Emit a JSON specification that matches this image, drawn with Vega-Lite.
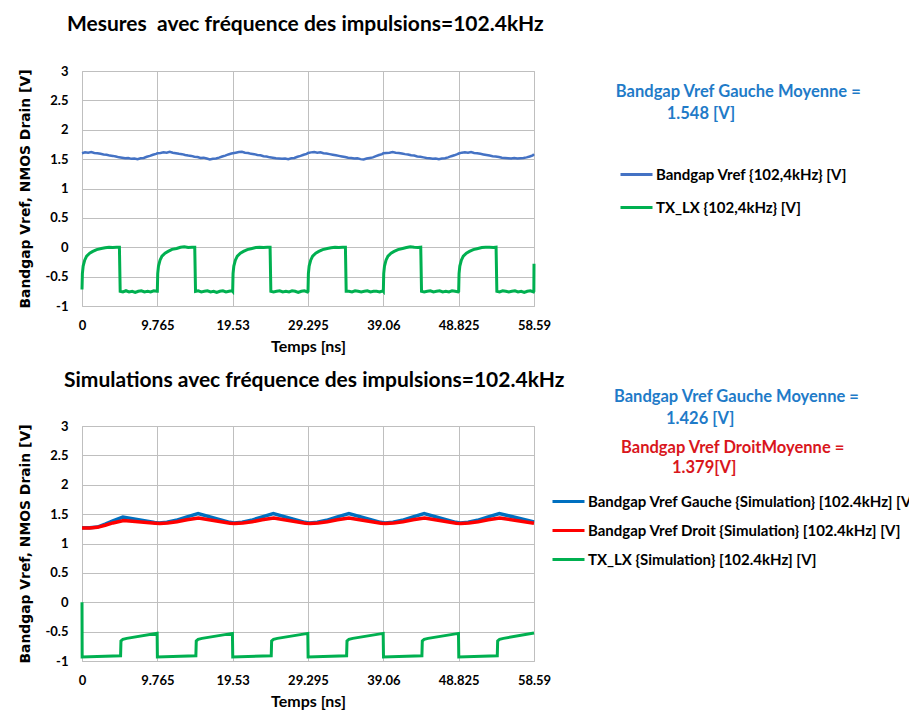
{
  "$schema": "https://vega.github.io/schema/vega-lite/v6.json",
  "padding": {"left": 18, "top": 13, "right": 0, "bottom": 0},
  "background": "white",
  "spacing": 14,
  "datasets": {
    "mBlue": [
      {"t":0,"v":1.6},{"t":0.4,"v":1.615},{"t":0.8,"v":1.61},{"t":1.2,"v":1.62},{"t":1.6,"v":1.605},{"t":2.0,"v":1.6},{"t":2.4,"v":1.59},{"t":2.8,"v":1.58},{"t":3.2,"v":1.575},{"t":3.6,"v":1.56},{"t":4.0,"v":1.555},{"t":4.4,"v":1.545},{"t":4.8,"v":1.53},{"t":5.2,"v":1.525},{"t":5.6,"v":1.515},{"t":6.0,"v":1.52},{"t":6.4,"v":1.505},{"t":6.8,"v":1.51},{"t":7.2,"v":1.5},{"t":7.6,"v":1.515},{"t":8.0,"v":1.52},{"t":8.4,"v":1.54},{"t":8.8,"v":1.555},{"t":9.2,"v":1.575},{"t":9.6,"v":1.59},
      {"t":9.77,"v":1.6},{"t":10.17,"v":1.605},{"t":10.57,"v":1.615},{"t":10.97,"v":1.61},{"t":11.37,"v":1.625},{"t":11.77,"v":1.61},{"t":12.17,"v":1.6},{"t":12.57,"v":1.59},{"t":12.97,"v":1.585},{"t":13.37,"v":1.57},{"t":13.77,"v":1.56},{"t":14.17,"v":1.555},{"t":14.57,"v":1.54},{"t":14.97,"v":1.535},{"t":15.37,"v":1.52},{"t":15.77,"v":1.525},{"t":16.17,"v":1.51},{"t":16.57,"v":1.495},{"t":16.97,"v":1.505},{"t":17.37,"v":1.51},{"t":17.77,"v":1.525},{"t":18.17,"v":1.545},{"t":18.57,"v":1.56},{"t":18.97,"v":1.58},{"t":19.37,"v":1.595},
      {"t":19.53,"v":1.6},{"t":19.93,"v":1.61},{"t":20.33,"v":1.62},{"t":20.73,"v":1.625},{"t":21.13,"v":1.61},{"t":21.53,"v":1.605},{"t":21.93,"v":1.59},{"t":22.33,"v":1.585},{"t":22.73,"v":1.57},{"t":23.13,"v":1.565},{"t":23.53,"v":1.55},{"t":23.93,"v":1.545},{"t":24.33,"v":1.53},{"t":24.73,"v":1.525},{"t":25.13,"v":1.515},{"t":25.53,"v":1.51},{"t":25.93,"v":1.505},{"t":26.33,"v":1.51},{"t":26.73,"v":1.5},{"t":27.13,"v":1.515},{"t":27.53,"v":1.52},{"t":27.93,"v":1.54},{"t":28.33,"v":1.555},{"t":28.73,"v":1.575},{"t":29.13,"v":1.59},
      {"t":29.3,"v":1.605},{"t":29.7,"v":1.615},{"t":30.1,"v":1.62},{"t":30.5,"v":1.61},{"t":30.9,"v":1.615},{"t":31.3,"v":1.6},{"t":31.7,"v":1.595},{"t":32.1,"v":1.585},{"t":32.5,"v":1.575},{"t":32.9,"v":1.565},{"t":33.3,"v":1.555},{"t":33.7,"v":1.545},{"t":34.1,"v":1.535},{"t":34.5,"v":1.525},{"t":34.9,"v":1.52},{"t":35.3,"v":1.51},{"t":35.7,"v":1.515},{"t":36.1,"v":1.5},{"t":36.5,"v":1.495},{"t":36.9,"v":1.51},{"t":37.3,"v":1.52},{"t":37.7,"v":1.53},{"t":38.1,"v":1.55},{"t":38.5,"v":1.57},{"t":38.9,"v":1.585},
      {"t":39.06,"v":1.6},{"t":39.46,"v":1.605},{"t":39.86,"v":1.61},{"t":40.26,"v":1.62},{"t":40.66,"v":1.61},{"t":41.06,"v":1.605},{"t":41.46,"v":1.595},{"t":41.86,"v":1.585},{"t":42.26,"v":1.58},{"t":42.66,"v":1.565},{"t":43.06,"v":1.56},{"t":43.46,"v":1.545},{"t":43.86,"v":1.54},{"t":44.26,"v":1.53},{"t":44.66,"v":1.52},{"t":45.06,"v":1.515},{"t":45.46,"v":1.505},{"t":45.86,"v":1.51},{"t":46.26,"v":1.5},{"t":46.66,"v":1.51},{"t":47.06,"v":1.515},{"t":47.46,"v":1.53},{"t":47.86,"v":1.55},{"t":48.26,"v":1.565},{"t":48.66,"v":1.585},
      {"t":48.83,"v":1.595},{"t":49.23,"v":1.61},{"t":49.63,"v":1.615},{"t":50.03,"v":1.61},{"t":50.43,"v":1.62},{"t":50.83,"v":1.605},{"t":51.23,"v":1.6},{"t":51.63,"v":1.59},{"t":52.03,"v":1.58},{"t":52.43,"v":1.57},{"t":52.83,"v":1.56},{"t":53.23,"v":1.55},{"t":53.63,"v":1.545},{"t":54.03,"v":1.535},{"t":54.43,"v":1.525},{"t":54.83,"v":1.52},{"t":55.23,"v":1.515},{"t":55.63,"v":1.51},{"t":56.03,"v":1.52},{"t":56.43,"v":1.51},{"t":56.83,"v":1.515},{"t":57.23,"v":1.52},{"t":57.63,"v":1.53},{"t":58.03,"v":1.545},{"t":58.43,"v":1.565},{"t":58.59,"v":1.585}
    ],
    "mGreen": [
      {"t":0,"v":-0.72},{"t":0.05,"v":-0.45},{"t":0.15,"v":-0.32},{"t":0.35,"v":-0.22},{"t":0.6,"v":-0.15},{"t":1.0,"v":-0.1},{"t":1.4,"v":-0.07},{"t":1.9,"v":-0.04},{"t":2.5,"v":-0.02},{"t":3.0,"v":-0.01},{"t":3.5,"v":0.0},{"t":4.0,"v":-0.005},{"t":4.5,"v":0.0},{"t":4.85,"v":0.0},{"t":4.95,"v":-0.75},{"t":5.3,"v":-0.76},{"t":5.7,"v":-0.74},{"t":6.1,"v":-0.76},{"t":6.5,"v":-0.75},{"t":6.9,"v":-0.77},{"t":7.3,"v":-0.75},{"t":7.7,"v":-0.74},{"t":8.1,"v":-0.76},{"t":8.5,"v":-0.75},{"t":8.9,"v":-0.76},{"t":9.3,"v":-0.74},{"t":9.7,"v":-0.75},
      {"t":9.765,"v":-0.75},{"t":9.815,"v":-0.45},{"t":9.915,"v":-0.32},{"t":10.115,"v":-0.22},{"t":10.365,"v":-0.15},{"t":10.765,"v":-0.1},{"t":11.165,"v":-0.07},{"t":11.665,"v":-0.035},{"t":12.265,"v":-0.02},{"t":12.765,"v":0.0},{"t":13.265,"v":0.01},{"t":13.765,"v":-0.005},{"t":14.265,"v":0.0},{"t":14.615,"v":0.0},{"t":14.715,"v":-0.75},{"t":15.065,"v":-0.74},{"t":15.465,"v":-0.76},{"t":15.865,"v":-0.75},{"t":16.265,"v":-0.74},{"t":16.665,"v":-0.76},{"t":17.065,"v":-0.75},{"t":17.465,"v":-0.77},{"t":17.865,"v":-0.75},{"t":18.265,"v":-0.74},{"t":18.665,"v":-0.76},{"t":19.065,"v":-0.75},{"t":19.465,"v":-0.74},
      {"t":19.53,"v":-0.75},{"t":19.58,"v":-0.45},{"t":19.68,"v":-0.32},{"t":19.88,"v":-0.22},{"t":20.13,"v":-0.15},{"t":20.53,"v":-0.1},{"t":20.93,"v":-0.07},{"t":21.43,"v":-0.04},{"t":22.03,"v":-0.02},{"t":22.53,"v":-0.005},{"t":23.03,"v":0.0},{"t":23.53,"v":-0.005},{"t":24.03,"v":0.0},{"t":24.38,"v":0.0},{"t":24.48,"v":-0.75},{"t":24.83,"v":-0.76},{"t":25.23,"v":-0.75},{"t":25.63,"v":-0.74},{"t":26.03,"v":-0.76},{"t":26.43,"v":-0.75},{"t":26.83,"v":-0.76},{"t":27.23,"v":-0.74},{"t":27.63,"v":-0.75},{"t":28.03,"v":-0.77},{"t":28.43,"v":-0.75},{"t":28.83,"v":-0.74},{"t":29.23,"v":-0.76},
      {"t":29.295,"v":-0.75},{"t":29.345,"v":-0.45},{"t":29.445,"v":-0.32},{"t":29.645,"v":-0.22},{"t":29.895,"v":-0.15},{"t":30.295,"v":-0.1},{"t":30.695,"v":-0.07},{"t":31.195,"v":-0.04},{"t":31.795,"v":-0.02},{"t":32.295,"v":-0.01},{"t":32.795,"v":0.0},{"t":33.295,"v":-0.005},{"t":33.795,"v":0.0},{"t":34.145,"v":0.0},{"t":34.245,"v":-0.75},{"t":34.595,"v":-0.75},{"t":34.995,"v":-0.76},{"t":35.395,"v":-0.74},{"t":35.795,"v":-0.75},{"t":36.195,"v":-0.76},{"t":36.595,"v":-0.75},{"t":36.995,"v":-0.74},{"t":37.395,"v":-0.76},{"t":37.795,"v":-0.75},{"t":38.195,"v":-0.75},{"t":38.595,"v":-0.76},{"t":38.995,"v":-0.74},
      {"t":39.06,"v":-0.75},{"t":39.11,"v":-0.45},{"t":39.21,"v":-0.32},{"t":39.41,"v":-0.22},{"t":39.66,"v":-0.15},{"t":40.06,"v":-0.1},{"t":40.46,"v":-0.07},{"t":40.96,"v":-0.04},{"t":41.56,"v":-0.02},{"t":42.06,"v":-0.005},{"t":42.56,"v":0.01},{"t":43.06,"v":0.0},{"t":43.56,"v":-0.005},{"t":43.91,"v":0.0},{"t":44.01,"v":-0.75},{"t":44.36,"v":-0.76},{"t":44.76,"v":-0.75},{"t":45.16,"v":-0.74},{"t":45.56,"v":-0.76},{"t":45.96,"v":-0.75},{"t":46.36,"v":-0.74},{"t":46.76,"v":-0.76},{"t":47.16,"v":-0.75},{"t":47.56,"v":-0.76},{"t":47.96,"v":-0.74},{"t":48.36,"v":-0.75},{"t":48.76,"v":-0.76},
      {"t":48.825,"v":-0.75},{"t":48.875,"v":-0.45},{"t":48.975,"v":-0.32},{"t":49.175,"v":-0.22},{"t":49.425,"v":-0.15},{"t":49.825,"v":-0.1},{"t":50.225,"v":-0.07},{"t":50.725,"v":-0.04},{"t":51.325,"v":-0.02},{"t":51.825,"v":-0.005},{"t":52.325,"v":0.0},{"t":52.825,"v":0.0},{"t":53.325,"v":-0.005},{"t":53.675,"v":0.0},{"t":53.775,"v":-0.75},{"t":54.125,"v":-0.76},{"t":54.525,"v":-0.74},{"t":54.925,"v":-0.75},{"t":55.325,"v":-0.76},{"t":55.725,"v":-0.75},{"t":56.125,"v":-0.74},{"t":56.525,"v":-0.76},{"t":56.925,"v":-0.75},{"t":57.325,"v":-0.77},{"t":57.725,"v":-0.75},{"t":58.125,"v":-0.74},{"t":58.525,"v":-0.76},{"t":58.57,"v":-0.75},{"t":58.59,"v":-0.28}
    ],
    "sBlue": [
      {"t":0,"v":1.27},{"t":1.0,"v":1.27},{"t":2.0,"v":1.28},{"t":3.0,"v":1.33},{"t":4.0,"v":1.385},{"t":5.3,"v":1.45},{"t":9.4,"v":1.358},{"t":10.0,"v":1.35},
      {"t":11.0,"v":1.362},{"t":12.2,"v":1.395},{"t":13.5,"v":1.45},{"t":15.05,"v":1.51},{"t":19.15,"v":1.36},{"t":19.75,"v":1.35},
      {"t":20.75,"v":1.362},{"t":21.95,"v":1.395},{"t":23.25,"v":1.45},{"t":24.8,"v":1.51},{"t":28.9,"v":1.36},{"t":29.5,"v":1.35},
      {"t":30.5,"v":1.362},{"t":31.7,"v":1.395},{"t":33.0,"v":1.45},{"t":34.6,"v":1.51},{"t":38.7,"v":1.36},{"t":39.28,"v":1.35},
      {"t":40.3,"v":1.362},{"t":41.5,"v":1.395},{"t":42.8,"v":1.45},{"t":44.35,"v":1.51},{"t":48.45,"v":1.36},{"t":49.05,"v":1.35},
      {"t":50.05,"v":1.362},{"t":51.25,"v":1.395},{"t":52.55,"v":1.45},{"t":54.1,"v":1.51},{"t":58.59,"v":1.365}
    ],
    "sRed": [
      {"t":0,"v":1.265},{"t":1.0,"v":1.265},{"t":2.0,"v":1.275},{"t":3.0,"v":1.31},{"t":4.0,"v":1.35},{"t":5.4,"v":1.39},{"t":9.5,"v":1.345},{"t":10.1,"v":1.34},
      {"t":11.1,"v":1.35},{"t":12.3,"v":1.37},{"t":13.6,"v":1.405},{"t":15.1,"v":1.435},{"t":19.2,"v":1.345},{"t":19.8,"v":1.34},
      {"t":20.85,"v":1.35},{"t":22.05,"v":1.37},{"t":23.35,"v":1.405},{"t":24.85,"v":1.435},{"t":28.95,"v":1.345},{"t":29.55,"v":1.34},
      {"t":30.6,"v":1.35},{"t":31.8,"v":1.37},{"t":33.1,"v":1.405},{"t":34.6,"v":1.435},{"t":38.75,"v":1.345},{"t":39.35,"v":1.34},
      {"t":40.4,"v":1.35},{"t":41.6,"v":1.37},{"t":42.9,"v":1.405},{"t":44.4,"v":1.435},{"t":48.5,"v":1.345},{"t":49.1,"v":1.34},
      {"t":50.15,"v":1.35},{"t":51.35,"v":1.37},{"t":52.65,"v":1.405},{"t":54.15,"v":1.435},{"t":58.59,"v":1.345}
    ],
    "sGreen": [
      {"t":0,"v":0},{"t":0.02,"v":-0.93},{"t":5.0,"v":-0.91},{"t":5.05,"v":-0.66},{"t":5.3,"v":-0.63},{"t":5.8,"v":-0.615},{"t":9.74,"v":-0.53},{"t":9.77,"v":-0.93},
      {"t":14.76,"v":-0.91},{"t":14.81,"v":-0.66},{"t":15.06,"v":-0.63},{"t":15.56,"v":-0.615},{"t":19.5,"v":-0.53},{"t":19.54,"v":-0.93},
      {"t":24.53,"v":-0.91},{"t":24.58,"v":-0.66},{"t":24.83,"v":-0.63},{"t":25.33,"v":-0.615},{"t":29.27,"v":-0.53},{"t":29.31,"v":-0.93},
      {"t":34.3,"v":-0.91},{"t":34.35,"v":-0.66},{"t":34.6,"v":-0.63},{"t":35.1,"v":-0.615},{"t":39.04,"v":-0.53},{"t":39.08,"v":-0.93},
      {"t":44.06,"v":-0.91},{"t":44.11,"v":-0.66},{"t":44.36,"v":-0.63},{"t":44.86,"v":-0.615},{"t":48.8,"v":-0.53},{"t":48.84,"v":-0.93},
      {"t":53.83,"v":-0.91},{"t":53.88,"v":-0.66},{"t":54.13,"v":-0.63},{"t":54.63,"v":-0.615},{"t":58.59,"v":-0.525}
    ]
  },
  "vconcat": [
    {
      "width": 452,
      "height": 235,
      "title": {"text": "Mesures\u00a0 avec fréquence des impulsions=102.4kHz", "dx": -15, "offset": 30},
      "encoding": {
        "x": {"field": "t", "type": "quantitative", "scale": {"domain": [0, 58.59], "nice": false, "zero": false},
              "axis": {"values": [0, 9.765, 19.53, 29.295, 39.06, 48.825, 58.59], "labelExpr": "'' + datum.value", "title": "Temps [ns]"}},
        "y": {"field": "v", "type": "quantitative", "scale": {"domain": [-1, 3], "nice": false, "zero": false},
              "axis": {"values": [-1, -0.5, 0, 0.5, 1, 1.5, 2, 2.5, 3], "labelExpr": "'' + datum.value", "title": "Bandgap Vref, NMOS Drain [V]"}}
      },
      "layer": [
        {"data": {"name": "mBlue"}, "mark": {"type": "line", "strokeWidth": 2.5},
         "encoding": {"color": {"datum": "Bandgap Vref {102,4kHz} [V]", "type": "nominal",
           "scale": {"domain": ["Bandgap Vref {102,4kHz} [V]", "TX_LX {102,4kHz} [V]"], "range": ["#4472C4", "#00B050"]},
           "legend": {"legendX": 537, "legendY": 86, "rowPadding": 7}}}},
        {"data": {"name": "mGreen"}, "mark": {"type": "line", "strokeWidth": 3},
         "encoding": {"color": {"datum": "TX_LX {102,4kHz} [V]", "type": "nominal"}}},
        {"data": {"values": [
            {"t": 69.2, "v": 2.643, "label": "Bandgap Vref Gauche Moyenne ="},
            {"t": 75.8, "v": 2.268, "label": "1.548 [V]"}]},
         "mark": {"type": "text", "align": "left", "baseline": "middle", "font": "Lato", "fontWeight": "bold", "fontSize": 16.5, "color": "#1F7BC8"},
         "encoding": {"text": {"field": "label", "type": "nominal"}}}
      ]
    },
    {
      "width": 452,
      "height": 235,
      "title": {"text": "Simulations avec fréquence des impulsions=102.4kHz", "dx": -18, "offset": -2},
      "encoding": {
        "x": {"field": "t", "type": "quantitative", "scale": {"domain": [0, 58.59], "nice": false, "zero": false},
              "axis": {"values": [0, 9.765, 19.53, 29.295, 39.06, 48.825, 58.59], "labelExpr": "'' + datum.value", "title": "Temps [ns]"}},
        "y": {"field": "v", "type": "quantitative", "scale": {"domain": [-1, 3], "nice": false, "zero": false},
              "axis": {"values": [-1, -0.5, 0, 0.5, 1, 1.5, 2, 2.5, 3], "labelExpr": "'' + datum.value", "title": "Bandgap Vref, NMOS Drain [V]"}}
      },
      "layer": [
        {"data": {"name": "sBlue"}, "mark": {"type": "line", "strokeWidth": 3.5},
         "encoding": {"color": {"datum": "Bandgap Vref Gauche {Simulation} [102.4kHz] [V]", "type": "nominal",
           "scale": {"domain": ["Bandgap Vref Gauche {Simulation} [102.4kHz] [V]", "Bandgap Vref Droit {Simulation} [102.4kHz] [V]", "TX_LX {Simulation} [102.4kHz] [V]"], "range": ["#0070C0", "#FF0000", "#00B050"]},
           "legend": {"legendX": 469, "legendY": 58, "rowPadding": 3}}}},
        {"data": {"name": "sRed"}, "mark": {"type": "line", "strokeWidth": 3.5},
         "encoding": {"color": {"datum": "Bandgap Vref Droit {Simulation} [102.4kHz] [V]", "type": "nominal"}}},
        {"data": {"name": "sGreen"}, "mark": {"type": "line", "strokeWidth": 3},
         "encoding": {"color": {"datum": "TX_LX {Simulation} [102.4kHz] [V]", "type": "nominal"}}},
        {"data": {"values": [
            {"t": 68.96, "v": 3.494, "label": "Bandgap Vref Gauche Moyenne ="},
            {"t": 75.7, "v": 3.119, "label": "1.426 [V]"}]},
         "mark": {"type": "text", "align": "left", "baseline": "middle", "font": "Lato", "fontWeight": "bold", "fontSize": 16.5, "color": "#1F7BC8"},
         "encoding": {"text": {"field": "label", "type": "nominal"}}},
        {"data": {"values": [
            {"t": 69.87, "v": 2.626, "label": "Bandgap Vref DroitMoyenne ="},
            {"t": 76.48, "v": 2.285, "label": "1.379[V]"}]},
         "mark": {"type": "text", "align": "left", "baseline": "middle", "font": "Lato", "fontWeight": "bold", "fontSize": 16.5, "color": "#D9161C"},
         "encoding": {"text": {"field": "label", "type": "nominal"}}}
      ]
    }
  ],
  "resolve": {"scale": {"color": "independent"}, "legend": {"color": "independent"}},
  "config": {
    "view": {"stroke": "#BFBFBF"},
    "axis": {"grid": true, "gridColor": "#BFBFBF", "gridWidth": 1, "domain": false, "ticks": false,
             "labelFont": "Lato", "labelFontWeight": "bold", "labelFontSize": 13, "labelColor": "#000000",
             "titleColor": "#000000", "labelFlush": false, "labelOverlap": false},
    "axisX": {"titleFont": "Lato", "titleFontSize": 16, "titleFontWeight": "bold", "labelPadding": 13, "titlePadding": 6},
    "axisY": {"titleFont": "DejaVu Sans", "titleFontSize": 13.9, "titleFontWeight": "bold", "labelPadding": 14, "titlePadding": 12},
    "legend": {"orient": "none", "symbolType": "stroke", "symbolSize": 1024, "symbolStrokeWidth": 3, "labelFont": "Lato",
               "labelFontSize": 15, "labelFontWeight": "bold", "labelColor": "#000000", "labelOffset": 2, "labelLimit": 500,
               "padding": 0, "title": null},
    "title": {"font": "Lato", "fontSize": 21, "fontWeight": "bold", "anchor": "start", "color": "#000000", "frame": "group"}
  }
}
